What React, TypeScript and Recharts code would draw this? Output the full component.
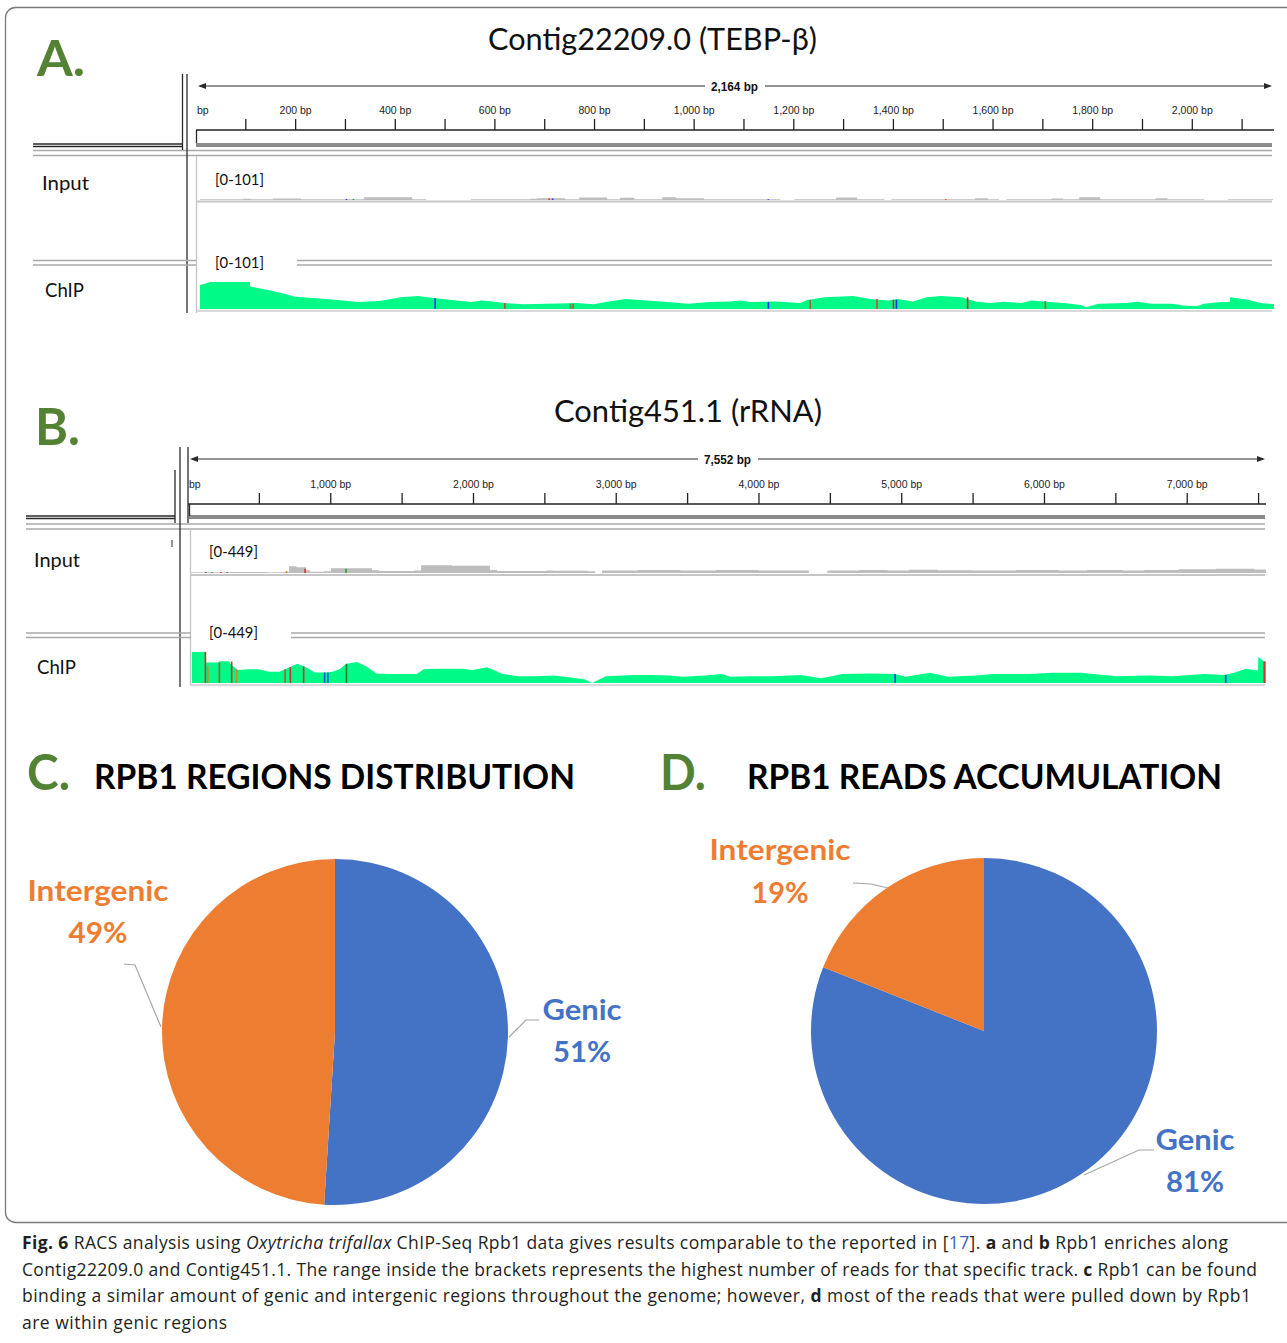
import React from 'react';
import { AreaChart, Area, XAxis, YAxis, ReferenceLine, PieChart, Pie, Cell } from 'recharts';

const CALIBRI = "Lato, 'Open Sans', sans-serif";
const RULER_FONT = "'Liberation Sans Narrow', 'Liberation Sans', Arial, sans-serif";
const CAPTION_FONT = "'Open Sans', 'Noto Sans', sans-serif";
const GREEN = '#00FA87';
const GREY = '#BDBDBD';

// ---- A. Contig22209.0 (TEBP-β), 2,164 bp, tracks scaled [0-101]
const aLength = 2164;
const aMax = 101;
const aTicks = [0, 100, 200, 300, 400, 500, 600, 700, 800, 900, 1000, 1100, 1200, 1300, 1400, 1500, 1600, 1700, 1800, 1900, 2000, 2100];
const aTickLabels = [0, 200, 400, 600, 800, 1000, 1200, 1400, 1600, 1800, 2000];

// [bp, reads]
const aInput = [
  [8, 3], [95, 5], [110, 3], [155, 6], [211, 3], [337, 10], [434, 3], [462, 0], [552, 3], [671, 5], [685, 7],
  [741, 3], [769, 9], [825, 3], [851, 8], [880, 3], [936, 10], [964, 7], [1020, 3], [1173, 0], [1201, 3],
  [1285, 9], [1327, 3], [1382, 0], [1396, 3], [1564, 7], [1590, 3], [1612, 0], [1627, 3], [1717, 6], [1740, 3],
  [1773, 10], [1815, 3], [1926, 7], [1950, 3], [2024, 0], [2072, 3], [2162, 3],
];
const aChip = [
  [8, 90], [30, 101], [108, 101], [109, 84], [136, 74], [150, 69], [171, 60], [199, 46], [242, 40], [284, 34],
  [326, 26], [368, 30], [411, 44], [446, 49], [481, 40], [523, 32], [552, 26], [573, 32], [601, 27], [618, 22],
  [657, 18], [728, 21], [763, 22], [798, 18], [826, 27], [862, 37], [904, 32], [946, 26], [988, 20], [1031, 26],
  [1072, 28], [1093, 32], [1114, 26], [1164, 28], [1213, 22], [1227, 34], [1262, 44], [1319, 49], [1354, 37],
  [1389, 32], [1410, 37], [1439, 28], [1467, 44], [1495, 49], [1537, 44], [1565, 28], [1594, 22], [1622, 27],
  [1657, 22], [1678, 32], [1706, 27], [1742, 22], [1776, 15], [1787, 7], [1812, 20], [1868, 22], [1890, 27],
  [1918, 20], [1960, 20], [1981, 13], [2009, 10], [2023, 20], [2058, 26], [2075, 26], [2076, 44], [2115, 34],
  [2136, 22], [2164, 18],
];
const aInputMarks = [
  { pos: 302, reads: 4, color: '#3a3aff' }, { pos: 316, reads: 4, color: '#2ea02e' },
  { pos: 709, reads: 6, color: '#d83030' }, { pos: 716, reads: 6, color: '#3a3aff' },
  { pos: 1149, reads: 3, color: '#3a3aff' }, { pos: 1505, reads: 3, color: '#d83030' },
];
const aChipMarks = [
  { pos: 480, reads: 40, color: '#1a33ff' }, { pos: 620, reads: 22, color: '#c0502a' },
  { pos: 752, reads: 20, color: '#3c9a3c' }, { pos: 757, reads: 20, color: '#c0502a' },
  { pos: 1149, reads: 26, color: '#1a33ff' }, { pos: 1233, reads: 34, color: '#b06030' },
  { pos: 1367, reads: 37, color: '#c0502a' }, { pos: 1400, reads: 35, color: '#d03030' },
  { pos: 1406, reads: 35, color: '#1a33ff' }, { pos: 1549, reads: 44, color: '#e02020' },
  { pos: 1705, reads: 30, color: '#b06030' },
];

// ---- B. Contig451.1 (rRNA), 7,552 bp, tracks scaled [0-449]
const bLength = 7552;
const bMax = 449;
const bTicks = [0, 500, 1000, 1500, 2000, 2500, 3000, 3500, 4000, 4500, 5000, 5500, 6000, 6500, 7000, 7500];
const bTickLabels = [0, 1000, 2000, 3000, 4000, 5000, 6000, 7000];

const bInput = [
  [20, 10], [300, 14], [560, 10], [659, 16], [708, 97], [760, 85], [827, 40], [855, 18], [953, 24], [1002, 68],
  [1289, 40], [1338, 28], [1584, 38], [1633, 112], [1850, 105], [2116, 42], [2165, 28], [2509, 38], [2558, 32],
  [2803, 26], [2852, 0], [2901, 35], [3150, 42], [3450, 35], [3700, 45], [4000, 38], [4350, 0], [4480, 35],
  [4700, 45], [4900, 38], [5050, 48], [5250, 40], [5500, 35], [5800, 42], [6100, 35], [6300, 45], [6550, 38],
  [6700, 45], [6938, 55], [7200, 60], [7470, 50], [7552, 50],
];
const bChip = [
  [27, 449], [122, 449], [124, 296], [212, 296], [220, 314], [287, 314], [298, 278], [348, 189], [422, 198],
  [495, 198], [569, 162], [643, 162], [692, 211], [766, 278], [827, 229], [889, 153], [963, 153], [1012, 162],
  [1061, 198], [1110, 278], [1184, 305], [1245, 247], [1319, 139], [1405, 130], [1602, 130], [1651, 198],
  [1749, 207], [1922, 207], [1995, 189], [2094, 229], [2143, 189], [2204, 130], [2315, 99], [2438, 99],
  [2561, 108], [2684, 81], [2782, 49], [2831, 0], [2880, 49], [2929, 99], [3126, 117], [3250, 117], [3372, 108],
  [3470, 90], [3618, 108], [3741, 130], [3798, 90], [3945, 99], [4093, 99], [4290, 117], [4437, 67], [4585, 130],
  [4782, 139], [4954, 130], [5027, 90], [5200, 148], [5322, 90], [5519, 108], [5643, 130], [5888, 130],
  [6060, 148], [6257, 148], [6503, 99], [6749, 108], [6896, 99], [7118, 130], [7265, 117], [7339, 157],
  [7413, 207], [7486, 180], [7496, 180], [7498, 377], [7535, 314], [7552, 314],
];
const bInputMarks = [
  { pos: 125, reads: 14, color: '#2ea02e' }, { pos: 170, reads: 14, color: '#2ea02e' },
  { pos: 230, reads: 14, color: '#d83030' }, { pos: 275, reads: 14, color: '#2ea02e' },
  { pos: 690, reads: 30, color: '#d08a20' }, { pos: 820, reads: 60, color: '#d83030' },
  { pos: 1107, reads: 60, color: '#2ea02e' },
];
const bChipMarks = [
  { pos: 122, reads: 449, color: '#d03030' }, { pos: 139, reads: 250, color: '#d08a20' },
  { pos: 220, reads: 296, color: '#a06030' }, { pos: 306, reads: 310, color: '#d03030' },
  { pos: 340, reads: 200, color: '#d08a20' }, { pos: 680, reads: 200, color: '#a06030' },
  { pos: 717, reads: 230, color: '#d03030' }, { pos: 810, reads: 240, color: '#d03030' },
  { pos: 957, reads: 153, color: '#2050e0' }, { pos: 980, reads: 150, color: '#2050e0' },
  { pos: 1110, reads: 278, color: '#2a7a2a' }, { pos: 4954, reads: 130, color: '#1a33ff' },
  { pos: 7270, reads: 117, color: '#1a33ff' }, { pos: 7540, reads: 314, color: '#d03030' },
];

// ---- C / D pies
const pieNames = ['Genic', 'Intergenic'];
const pieColors = ['#4472C4', '#ED7D31'];
const regionsPct = [51, 49];
const readsPct = [81, 19];

// label placement, offsets from the pie centre
const cLabelLayout = [
  { leader: [[174, 5], [191, -12], [204, -12]], tx: 247, nameY: -12, pctY: 30, nameW: 79, pctW: 58 },
  { leader: [[-174, -5], [-200, -67], [-211, -68]], tx: -237, nameY: -131, pctY: -89, nameW: 141, pctW: 59 },
];
const dLabelLayout = [
  { leader: [[100, 144], [155, 119], [170, 119]], tx: 211, nameY: 119, pctY: 161, nameW: 79, pctW: 58 },
  { leader: [[-96, -143], [-113, -147], [-131, -148]], tx: -204, nameY: -171, pctY: -128, nameW: 141, pctW: 57 },
];

const toRows = (pairs) => pairs.map(([pos, reads]) => ({ pos, reads }));

function RulerTick({ x, y, payload, labels }: any) {
  const v = payload.value;
  const show = labels.includes(v);
  return (
    <g>
      {v !== 0 && <line x1={x} x2={x} y1={y + 2} y2={y + 13} stroke="#222" strokeWidth={1.3} />}
      {show && v === 0 && (
        // the 0 label sits at the panel edge, only its tail is visible in IGV
        <text x={x + 1} y={y - 3} textAnchor="start" fontSize={10.5} fontFamily={RULER_FONT} fill="#222">bp</text>
      )}
      {show && v !== 0 && (
        <text x={x} y={y - 3} textAnchor="middle" fontSize={10.5} fontFamily={RULER_FONT} fill="#222">
          {`${v.toLocaleString('en-US')} bp`}
        </text>
      )}
    </g>
  );
}

function Ruler({ length, ticks, labels, left, top, width }) {
  const rows = ticks.map((t) => ({ pos: t, v: 0 }));
  return (
    <div style={{ position: 'absolute', left, top }}>
      <AreaChart width={width} height={60} data={rows} margin={{ top: 0, right: 0, bottom: 0, left: 0 }}>
        <XAxis dataKey="pos" type="number" domain={[0, length]} ticks={ticks} interval={0} orientation="top"
          height={55} tickSize={11} tickMargin={2} tickLine={false}
          axisLine={{ stroke: '#222', strokeWidth: 1.3 }} tick={<RulerTick labels={labels} />} />
        <YAxis hide domain={[0, 1]} />
        <Area dataKey="v" stroke="none" fill="none" isAnimationActive={false} dot={false} activeDot={false} />
      </AreaChart>
    </div>
  );
}

function Coverage({ data, length, max, fill, left, top, width, height, marks, step = false }) {
  return (
    <div style={{ position: 'absolute', left, top }}>
      <AreaChart width={width} height={height} data={toRows(data)} margin={{ top: 0, right: 0, bottom: 0, left: 0 }}>
        <XAxis dataKey="pos" type="number" domain={[0, length]} hide />
        <YAxis type="number" domain={[0, max]} hide />
        <Area type={step ? 'stepAfter' : 'linear'} dataKey="reads" stroke="none" fill={fill} fillOpacity={1}
          isAnimationActive={false} dot={false} activeDot={false} />
        {marks.map((m, i) => (
          <ReferenceLine key={i} segment={[{ x: m.pos, y: 0 }, { x: m.pos, y: m.reads }]} stroke={m.color} strokeWidth={1.6} />
        ))}
      </AreaChart>
    </div>
  );
}

function PieLabel({ cx, cy, index, value, layout }: any) {
  const l = layout[index];
  const color = pieColors[index];
  const pts = l.leader.map(([dx, dy]) => `${cx + dx},${cy + dy}`).join(' ');
  return (
    <g>
      <polyline points={pts} fill="none" stroke="#a6a6a6" strokeWidth={1.2} />
      <text x={cx + l.tx} y={cy + l.nameY} textAnchor="middle" fontSize={29} fontWeight={700} fill={color}
        fontFamily={CALIBRI} textLength={l.nameW} lengthAdjust="spacingAndGlyphs">{pieNames[index]}</text>
      <text x={cx + l.tx} y={cy + l.pctY} textAnchor="middle" fontSize={29} fontWeight={700} fill={color}
        fontFamily={CALIBRI} textLength={l.pctW} lengthAdjust="spacingAndGlyphs">{`${value}%`}</text>
    </g>
  );
}

function RegionPie({ values, layout, left, top, width, cx, cy }) {
  const rows = pieNames.map((name, i) => ({ name, value: values[i] }));
  return (
    <div style={{ position: 'absolute', left, top }}>
      <PieChart width={width} height={400} margin={{ top: 0, right: 0, bottom: 0, left: 0 }}>
        <Pie data={rows} dataKey="value" nameKey="name" cx={cx} cy={cy} outerRadius={173} startAngle={90} endAngle={-270}
          stroke="none" isAnimationActive={false} labelLine={false}
          label={(p) => <PieLabel {...p} layout={layout} />}>
          {rows.map((r, i) => <Cell key={r.name} fill={pieColors[i]} />)}
        </Pie>
      </PieChart>
    </div>
  );
}

const T = ({ x, y, w, size, weight = 400, fill = '#111', family = CALIBRI, children }: any) => (
  <text x={x} y={y} fontSize={size} fontWeight={weight} fill={fill} fontFamily={family}
    textLength={w} lengthAdjust="spacingAndGlyphs">{children}</text>
);

const captionLines = [
  { w: 1206, segs: [{ t: 'Fig. 6', b: true }, { t: ' RACS analysis using ' }, { t: 'Oxytricha trifallax', i: true },
    { t: ' ChIP-Seq Rpb1 data gives results comparable to the reported in [' }, { t: '17', c: '#3f63b5' }, { t: ']. ' },
    { t: 'a', b: true }, { t: ' and ' }, { t: 'b', b: true }, { t: ' Rpb1 enriches along' }] },
  { w: 1235, segs: [{ t: 'Contig22209.0 and Contig451.1. The range inside the brackets represents the highest number of reads for that specific track. ' },
    { t: 'c', b: true }, { t: ' Rpb1 can be found' }] },
  { w: 1229, segs: [{ t: 'binding a similar amount of genic and intergenic regions throughout the genome; however, ' },
    { t: 'd', b: true }, { t: ' most of the reads that were pulled down by Rpb1' }] },
  { w: 205, segs: [{ t: 'are within genic regions' }] },
];

function Decor() {
  const dark = '#2a2a2a';
  const mid = '#8c8c8c';
  const light = '#a9a9a9';
  return (
    <svg width={1287} height={1343} style={{ position: 'absolute', left: 0, top: 0 }}>
      <rect x={5.5} y={7.5} width={1300} height={1215} rx={10} fill="none" stroke="#7a7a7a" strokeWidth={1.3} />

      {/* A frame */}
      <line x1={33} x2={182} y1={144} y2={144} stroke={dark} strokeWidth={1.4} />
      <line x1={33} x2={182} y1={146.5} y2={146.5} stroke={dark} strokeWidth={1.4} />
      <rect x={196} y={143} width={1076} height={4} fill={mid} />
      <line x1={33} x2={1272} y1={150.5} y2={150.5} stroke={light} strokeWidth={1.5} />
      <line x1={33} x2={1272} y1={155.5} y2={155.5} stroke={light} strokeWidth={1.5} />
      <line x1={182.5} x2={182.5} y1={74} y2={150} stroke={dark} strokeWidth={1.3} />
      <line x1={187} x2={187} y1={74} y2={313} stroke={dark} strokeWidth={1.3} />
      <line x1={196.5} x2={196.5} y1={130} y2={143} stroke={dark} strokeWidth={1.3} />
      <line x1={196.5} x2={196.5} y1={156} y2={313} stroke="#c4c4c4" strokeWidth={1.3} />
      <line x1={196} x2={1272} y1={201.5} y2={201.5} stroke="#c6c6c6" strokeWidth={2} />
      <line x1={33} x2={196} y1={260.5} y2={260.5} stroke={light} strokeWidth={1.5} />
      <line x1={33} x2={196} y1={265} y2={265} stroke={light} strokeWidth={1.5} />
      <line x1={297} x2={1272} y1={260.5} y2={260.5} stroke={light} strokeWidth={1.5} />
      <line x1={297} x2={1272} y1={265} y2={265} stroke={light} strokeWidth={1.5} />
      <line x1={196} x2={1272} y1={311} y2={311} stroke="#cccccc" strokeWidth={1.5} />
      <line x1={200} x2={705} y1={86} y2={86} stroke={dark} strokeWidth={1.2} />
      <line x1={765} x2={1270} y1={86} y2={86} stroke={dark} strokeWidth={1.2} />
      <polygon points="198,86 206,83 206,89" fill={dark} />
      <polygon points="1272,86 1264,83 1264,89" fill={dark} />

      {/* B frame */}
      <line x1={26} x2={175} y1={516} y2={516} stroke={dark} strokeWidth={1.4} />
      <line x1={26} x2={175} y1={518.5} y2={518.5} stroke={dark} strokeWidth={1.4} />
      <rect x={189} y={515} width={1076} height={4} fill={mid} />
      <line x1={26} x2={1265} y1={524} y2={524} stroke={light} strokeWidth={1.5} />
      <line x1={26} x2={1265} y1={529} y2={529} stroke={light} strokeWidth={1.5} />
      <line x1={175} x2={175} y1={470} y2={523} stroke={dark} strokeWidth={1.3} />
      <line x1={180} x2={180} y1={447} y2={687} stroke={dark} strokeWidth={1.3} />
      <line x1={188} x2={188} y1={447} y2={523} stroke={dark} strokeWidth={1.3} />
      <line x1={189.5} x2={189.5} y1={504} y2={516} stroke={dark} strokeWidth={1.3} />
      <line x1={190.5} x2={190.5} y1={529} y2={686} stroke="#c4c4c4" strokeWidth={1.3} />
      <line x1={172} x2={172} y1={540} y2={547} stroke={dark} strokeWidth={1} />
      <line x1={190} x2={1265} y1={575} y2={575} stroke="#c6c6c6" strokeWidth={2} />
      <line x1={26} x2={191} y1={633} y2={633} stroke={light} strokeWidth={1.5} />
      <line x1={26} x2={191} y1={637.5} y2={637.5} stroke={light} strokeWidth={1.5} />
      <line x1={291} x2={1265} y1={633} y2={633} stroke={light} strokeWidth={1.5} />
      <line x1={291} x2={1265} y1={637.5} y2={637.5} stroke={light} strokeWidth={1.5} />
      <line x1={190} x2={1265} y1={685} y2={685} stroke="#cccccc" strokeWidth={1.5} />
      <line x1={192} x2={698} y1={459} y2={459} stroke={dark} strokeWidth={1.2} />
      <line x1={758} x2={1263} y1={459} y2={459} stroke={dark} strokeWidth={1.2} />
      <polygon points="190,459 198,456 198,462" fill={dark} />
      <polygon points="1265,459 1257,456 1257,462" fill={dark} />

      {/* panel letters and titles */}
      <T x={37} y={76} w={48} size={50} weight={700} fill="#548235">A.</T>
      <T x={35} y={445} w={45} size={51} weight={700} fill="#548235">B.</T>
      <T x={27} y={790} w={43} size={49} weight={700} fill="#548235">C.</T>
      <T x={660} y={790} w={46} size={49} weight={700} fill="#548235">D.</T>
      <T x={488} y={50} w={329} size={31}>Contig22209.0 (TEBP-β)</T>
      <T x={554} y={422} w={268} size={31}>Contig451.1 (rRNA)</T>
      <T x={94} y={789} w={481} size={35} weight={700} fill="#000">RPB1 REGIONS DISTRIBUTION</T>
      <T x={747} y={789} w={475} size={35} weight={700} fill="#000">RPB1 READS ACCUMULATION</T>

      {/* track names and ranges */}
      <T x={711} y={91} w={47} size={12} weight={700} family={RULER_FONT}>2,164 bp</T>
      <T x={704} y={464} w={47} size={12} weight={700} family={RULER_FONT}>7,552 bp</T>
      <T x={42} y={190} w={47} size={19}>Input</T>
      <T x={215} y={185} w={49} size={15}>[0-101]</T>
      <T x={45} y={297} w={39} size={19}>ChIP</T>
      <T x={215} y={268} w={49} size={15}>[0-101]</T>
      <T x={34} y={567} w={46} size={19}>Input</T>
      <T x={209} y={557} w={49} size={15}>[0-449]</T>
      <T x={37} y={674} w={39} size={19}>ChIP</T>
      <T x={209} y={638} w={49} size={15}>[0-449]</T>

      {/* caption */}
      {captionLines.map((line, li) => (
        <text key={li} x={22} y={1249 + li * 26.5} fontSize={17.5} fontFamily={CAPTION_FONT} fill="#231f20"
          textLength={line.w} lengthAdjust="spacing" style={{ whiteSpace: 'pre' }}>
          {line.segs.map((s: any, si) => (
            <tspan key={si} fontWeight={s.b ? 700 : 400} fontStyle={s.i ? 'italic' : 'normal'} fill={s.c || '#231f20'}>{s.t}</tspan>
          ))}
        </text>
      ))}
    </svg>
  );
}

export default function App() {
  return (
    <div style={{ position: 'absolute', left: 0, top: 0, width: 1287, height: 1343, background: '#fff', overflow: 'hidden' }}>
      <Decor />
      <Ruler length={aLength} ticks={aTicks} labels={aTickLabels} left={196} top={75} width={1078} />
      <Coverage data={aInput} length={aLength} max={aMax} fill={GREY} left={196} top={173} width={1078} height={27} marks={aInputMarks} step />
      <Coverage data={aChip} length={aLength} max={aMax} fill={GREEN} left={196} top={282} width={1078} height={27} marks={aChipMarks} />
      <Ruler length={bLength} ticks={bTicks} labels={bTickLabels} left={188} top={449} width={1078} />
      <Coverage data={bInput} length={bLength} max={bMax} fill={GREY} left={188} top={542} width={1078} height={31} marks={bInputMarks} step />
      <Coverage data={bChip} length={bLength} max={bMax} fill={GREEN} left={188} top={652} width={1078} height={31} marks={bChipMarks} />
      <RegionPie values={regionsPct} layout={cLabelLayout} left={10} top={820} width={640} cx={325} cy={212} />
      <RegionPie values={readsPct} layout={dLabelLayout} left={660} top={820} width={620} cx={324} cy={211} />
    </div>
  );
}
